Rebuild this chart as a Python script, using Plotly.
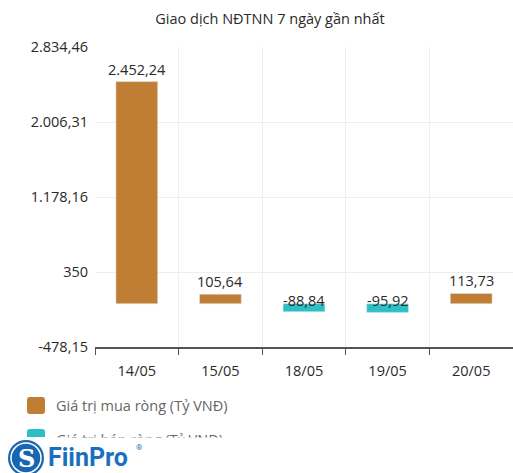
import plotly.graph_objects as go

categories = ["14/05", "15/05", "18/05", "19/05", "20/05"]
buy_values = [2452.24, 105.64, None, None, 113.73]
sell_values = [None, None, -88.84, -95.92, None]
buy_labels = ["2.452,24", "105,64", None, None, "113,73"]
sell_labels = [None, None, "-88,84", "-95,92", None]
y_tickvals = [-478.15, 350, 1178.16, 2006.31, 2834.46]
y_ticktext = ["-478,15", "350", "1.178,16", "2.006,31", "2.834,46"]
series_names = ["Giá trị mua ròng (Tỷ VNĐ)", "Giá trị bán ròng (Tỷ VNĐ)"]
title_text = "Giao dịch NĐTNN 7 ngày gần nhất"

BUY = "#C07E35"
SELL = "#2DBFC5"
W, H = 513, 473
L, R, T, B = 95, 0, 47, 126
PW, PH = W - L - R, H - T - B

def xp(px):
    return (px - L) / PW

def yp(py):
    return (H - B - py) / PH

FONT = "Open Sans"
TXT = "#2a2a2a"

fig = go.Figure()
fig.add_trace(go.Bar(x=categories, y=buy_values, marker_color=BUY, width=0.5,
                     name=series_names[0], showlegend=False))
fig.add_trace(go.Bar(x=categories, y=sell_values, marker_color=SELL, width=0.5,
                     name=series_names[1], showlegend=False))

ann = []
for c, v, t in zip(categories, buy_values, buy_labels):
    if v is not None:
        ann.append(dict(x=c, y=v, text=t, showarrow=False, yanchor="bottom", yshift=1,
                        font=dict(size=14.5, color=TXT, family=FONT)))
for c, v, t in zip(categories, sell_values, sell_labels):
    if v is not None:
        ann.append(dict(x=c, y=0, text=t, showarrow=False, yanchor="middle", yshift=3,
                        font=dict(size=14.5, color=TXT, family=FONT)))

shapes = []

def rounded(x0, y0, x1, y1, r, color):
    X0, X1 = xp(x0), xp(x1)
    return dict(type="path", xref="paper", yref="paper", fillcolor=color, line=dict(width=0),
                path=(f"M {xp(x0+r)},{yp(y0)} L {xp(x1-r)},{yp(y0)} Q {X1},{yp(y0)} {X1},{yp(y0+r)} "
                      f"L {X1},{yp(y1-r)} Q {X1},{yp(y1)} {xp(x1-r)},{yp(y1)} L {xp(x0+r)},{yp(y1)} "
                      f"Q {X0},{yp(y1)} {X0},{yp(y1-r)} L {X0},{yp(y0+r)} Q {X0},{yp(y0)} {xp(x0+r)},{yp(y0)} Z"))

# manual legend
shapes.append(rounded(27, 397, 45, 414, 3, BUY))
shapes.append(dict(type="path", xref="paper", yref="paper", fillcolor=SELL, line=dict(width=0),
                   path=(f"M {xp(27)},{yp(437)} L {xp(27)},{yp(432)} Q {xp(27)},{yp(429)} {xp(30)},{yp(429)} "
                         f"L {xp(42)},{yp(429)} Q {xp(45)},{yp(429)} {xp(45)},{yp(432)} L {xp(45)},{yp(437)} Z")))
ann.append(dict(xref="paper", yref="paper", x=xp(54), y=yp(405.5), xanchor="left", yanchor="middle",
                text=series_names[0], showarrow=False, font=dict(size=14.5, color="#666", family=FONT)))
ann.append(dict(xref="paper", yref="paper", x=xp(54), y=yp(439), xanchor="left", yanchor="middle",
                text=series_names[1], showarrow=False, font=dict(size=14.5, color="#666", family=FONT)))
# white band hiding the lower part of the second legend entry (the logo overlays it)
ann.append(dict(xref="paper", yref="paper", x=xp(48), y=yp(437), xanchor="left", yanchor="top",
                text=" ", showarrow=False, width=230, height=18, bgcolor="white", borderpad=0,
                font=dict(size=10)))

# logo
shapes.append(dict(type="circle", xref="paper", yref="paper", x0=xp(8), x1=xp(44), y0=yp(440), y1=yp(476),
                   fillcolor="#1766B2", line=dict(width=0)))
shapes.append(dict(type="circle", xref="paper", yref="paper", x0=xp(11), x1=xp(41), y0=yp(443), y1=yp(473),
                   fillcolor="rgba(0,0,0,0)", line=dict(width=1.5, color="white")))
ann.append(dict(xref="paper", yref="paper", x=xp(26), y=yp(458), xanchor="center", yanchor="middle",
                text="<b>S</b>", showarrow=False, font=dict(size=24, color="white", family="DejaVu Serif")))
ann.append(dict(xref="paper", yref="paper", x=xp(46), y=yp(457), xanchor="left", yanchor="middle",
                text="<b>FiinPro</b>", showarrow=False, font=dict(size=25, color="#1A6FBE", family="Roboto")))
ann.append(dict(xref="paper", yref="paper", x=xp(134), y=yp(447), xanchor="left", yanchor="middle",
                text="®", showarrow=False, font=dict(size=8, color="#1A6FBE", family="Roboto")))

fig.update_layout(
    width=W, height=H,
    margin=dict(l=L, r=R, t=T, b=B),
    paper_bgcolor="white", plot_bgcolor="white",
    separators=",.",
    barmode="overlay",
    title=dict(text=title_text, x=270 / W, xanchor="center", y=1 - 19 / H, yanchor="middle",
               font=dict(size=14.5, color=TXT, family=FONT)),
    xaxis=dict(type="category", tickson="boundaries", ticks="outside", ticklen=6, tickcolor="#555",
               showline=True, linecolor="#555", linewidth=1.5, showgrid=True, gridcolor="#eeeeee",
               ticklabelstandoff=10, tickfont=dict(size=14.5, color=TXT, family=FONT), fixedrange=True),
    yaxis=dict(range=[-478.15, 2834.46], tickvals=y_tickvals, ticktext=y_ticktext,
               showgrid=True, gridcolor="#eeeeee", zeroline=False, showline=False,
               ticks="", ticklabelstandoff=6, tickfont=dict(size=14.5, color=TXT, family=FONT)),
    shapes=shapes, annotations=ann,
)

fig.write_html("out.html", config={"displayModeBar": False},
               post_script="document.body.style.margin='0';")
